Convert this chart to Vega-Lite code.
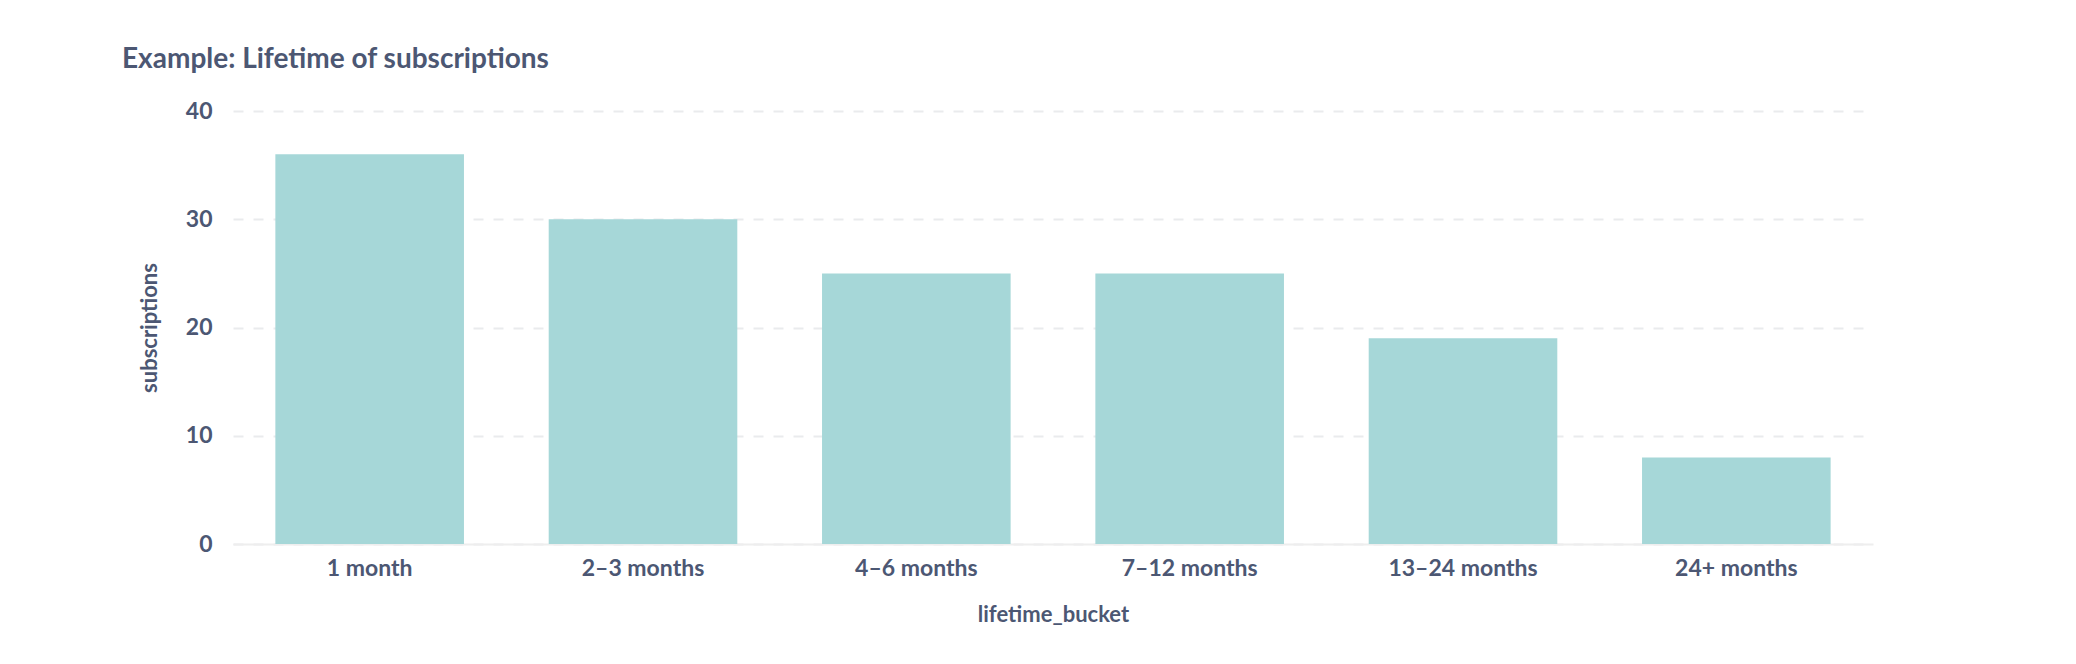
{
  "$schema": "https://vega.github.io/schema/vega-lite/v6.json",
  "width": 1640,
  "height": 433,
  "autosize": "none",
  "padding": {"left": 233, "top": 111, "right": 203, "bottom": 120},
  "background": "#ffffff",
  "title": {
    "text": "Example: Lifetime of subscriptions",
    "anchor": "start",
    "frame": "group",
    "dx": -111,
    "baseline": "alphabetic",
    "offset": 4,
    "font": "Lato",
    "fontSize": 28,
    "fontWeight": "bold",
    "color": "#4C5773"
  },
  "data": {
    "values": [
      {"lifetime_bucket": "1 month", "subscriptions": 36},
      {"lifetime_bucket": "2–3 months", "subscriptions": 30},
      {"lifetime_bucket": "4–6 months", "subscriptions": 25},
      {"lifetime_bucket": "7–12 months", "subscriptions": 25},
      {"lifetime_bucket": "13–24 months", "subscriptions": 19},
      {"lifetime_bucket": "24+ months", "subscriptions": 8}
    ]
  },
  "mark": {"type": "bar", "color": "#A6D7D8"},
  "encoding": {
    "x": {
      "field": "lifetime_bucket",
      "type": "nominal",
      "sort": null,
      "scale": {"paddingInner": 0.31, "paddingOuter": 0.155},
      "axis": {
        "title": "lifetime_bucket",
        "labelAngle": 0,
        "ticks": false,
        "domainColor": "#EEEEEE",
        "domainWidth": 2,
        "labelPadding": 13,
        "titlePadding": 24
      }
    },
    "y": {
      "field": "subscriptions",
      "type": "quantitative",
      "scale": {"domain": [0, 40], "nice": false},
      "axis": {
        "title": "subscriptions",
        "values": [0, 10, 20, 30, 40],
        "ticks": false,
        "domain": false,
        "labelPadding": 21,
        "titlePadding": 24,
        "gridColor": "#EAEBED",
        "gridWidth": 2,
        "gridDash": [10, 10]
      }
    }
  },
  "config": {
    "view": {"stroke": null},
    "axis": {
      "labelFont": "Lato",
      "labelFontSize": 23,
      "labelFontWeight": "bold",
      "labelColor": "#4C5773",
      "titleFont": "Lato",
      "titleFontSize": 22,
      "titleFontWeight": "bold",
      "titleColor": "#4C5773"
    },
    "axisX": {"grid": false}
  }
}
